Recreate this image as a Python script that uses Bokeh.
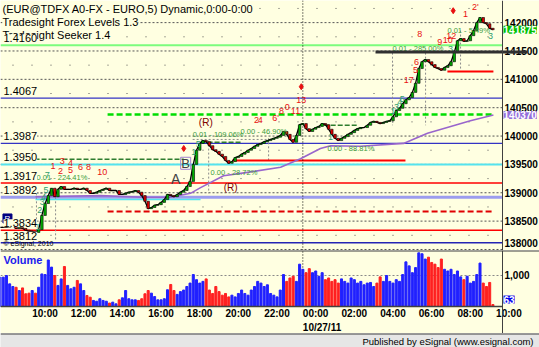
import numpy as np
from bokeh.plotting import figure
from bokeh.layouts import column
from bokeh.models import Range1d, ColumnDataSource, Span
from bokeh.core.properties import value
from bokeh.embed import file_html
from bokeh.resources import INLINE

FONT = "Liberation Sans"
BG = "#FFFFE1"

# ----------------------------- data -----------------------------
bar_start_hour = 8 + 20 / 60      # 08:20 on 10/26/11; hours > 24 belong to 10/27/11
bar_step_hours = 10 / 60

closes = [
    1.3839, 1.3839, 1.3839, 1.3841, 1.3842, 1.3837, 1.3839, 1.3837, 1.3834, 1.3832,
    1.3832, 1.3830, 1.3835, 1.3860, 1.3881, 1.3895, 1.3908, 1.3893, 1.3906, 1.3911,
    1.3906, 1.3906, 1.3906, 1.3908, 1.3906, 1.3906, 1.3908, 1.3904, 1.3899, 1.3899,
    1.3901, 1.3904, 1.3906, 1.3908, 1.3904, 1.3904, 1.3904, 1.3897, 1.3897, 1.3899,
    1.3901, 1.3902, 1.3904, 1.3901, 1.3895, 1.3885, 1.3872, 1.3874, 1.3878, 1.3879,
    1.3883, 1.3888, 1.3897, 1.3895, 1.3893, 1.3897, 1.3901, 1.3904, 1.3911, 1.3920,
    1.3950, 1.3975, 1.3987, 1.3992, 1.3990, 1.3983, 1.3976, 1.3973, 1.3968, 1.3964,
    1.3957, 1.3952, 1.3955, 1.3962, 1.3964, 1.3968, 1.3971, 1.3975, 1.3978, 1.3982,
    1.3985, 1.3987, 1.3990, 1.3992, 1.3994, 1.3996, 1.3998, 1.4001, 1.4008, 1.4003,
    1.3994, 1.3989, 1.4001, 1.4020, 1.4022, 1.4013, 1.4008, 1.4012, 1.4015, 1.4017,
    1.4022, 1.4020, 1.4012, 1.4003, 1.3996, 1.3992, 1.3996, 1.3999, 1.4003, 1.4006,
    1.4010, 1.4013, 1.4015, 1.4015, 1.4019, 1.4024, 1.4026, 1.4024, 1.4022, 1.4024,
    1.4026, 1.4027, 1.4034, 1.4045, 1.4049, 1.4057, 1.4064, 1.4068, 1.4077, 1.4093,
    1.4119, 1.4131, 1.4135, 1.4131, 1.4126, 1.4121, 1.4119, 1.4116, 1.4121, 1.4124,
    1.4131, 1.4147, 1.4168, 1.4172, 1.4167, 1.4168, 1.4177, 1.4186, 1.4200, 1.4209,
    1.4200, 1.4198, 1.4190, 1.41875,
]

volumes = [
    950, 946, 1000, 730, 645, 620, 515, 600, 410, 430,
    515, 430, 620, 1050, 1030, 1500, 1270, 1000, 680, 890,
    1290, 680, 570, 620, 840, 730, 515, 355, 300, 195,
    170, 250, 195, 170, 110, 140, 85, 215, 280, 515,
    250, 215, 215, 195, 250, 410, 515, 430, 320, 215,
    215, 250, 540, 710, 515, 390, 480, 530, 645, 755,
    1030, 865, 755, 810, 890, 530, 420, 645, 480, 365,
    420, 310, 365, 310, 420, 530, 420, 365, 530, 645,
    810, 755, 645, 700, 420, 365, 310, 530, 1030, 810,
    920, 975, 810, 1365, 1200, 1090, 1220, 1090, 1145, 975,
    1090, 865, 920, 810, 865, 755, 890, 810, 755, 920,
    865, 755, 810, 700, 755, 775, 645, 755, 955, 810,
    1000, 810, 755, 865, 810, 1030, 1440, 1310, 1090, 1255,
    1730, 1700, 1530, 1590, 1420, 1365, 1255, 1530, 1200, 1145,
    1200, 1030, 1145, 955, 865, 975, 755, 810, 1030, 1400,
    755, 645, 775, 63,
]

ma_hours = [10.17, 13.53, 15.76, 17.15, 18.19, 18.71, 19.90, 21.14, 22.85, 23.88,
            24.91, 25.43, 26.98, 29.21, 30.45, 32.67, 33.86]
ma_values = [1.3893, 1.3895, 1.3892, 1.3892, 1.3899, 1.3909, 1.3930, 1.3936, 1.3945, 1.3960,
             1.3978, 1.3983, 1.3982, 1.3987, 1.4005, 1.4027, 1.4037]

level_values = [1.4160, 1.4067, 1.3987, 1.3950, 1.3917, 1.3892, 1.3834, 1.3812]
level_texts = ["1.4160", "1.4067", "1.3987", "1.3950", "1.3917", "1.3892", "1.3834", "1.3812"]
level_colors = ["#7CFC7C", "#3434C4", "#3434C4", "#55E3EE", "#FF0000", "#9C9CEE", "#FF0000", "#2424B4"]
level_widths = [2, 1.3, 1.3, 2, 1.5, 3, 1.5, 1.5]

# partial Seeker lines (start hour, end hour, price)
green_dash_x0 = [13.90]; green_dash_x1 = [33.86]; green_dash_y = [1.4038]
dkgreen_dash_x0 = [10.12, 18.71, 25.08]; dkgreen_dash_x1 = [17.84, 20.78, 26.89]
dkgreen_dash_y = [1.3959, 1.3989, 1.4019]
red_dash_x0 = [13.90]; red_dash_x1 = [33.86]; red_dash_y = [1.3867]
red_seg_x0 = [20.36, 31.48]; red_seg_x1 = [29.31, 33.86]; red_seg_y = [1.3957, 1.4114]
black_seg_x0 = [27.76]; black_seg_x1 = [35.62]; black_seg_y = [1.4148]
cyan_seg_x0 = [10.17]; cyan_seg_x1 = [18.71]; cyan_seg_y = [1.3888]
box_x0 = [10.22, 11.21, 10.22, 19.13, 22.23, 18.30, 28.64, 30.35, 32.16]
box_y0 = [1.3899, 1.3899, 1.3899, 1.3992, 1.3996, 1.3994, 1.4147, 1.4147, 1.4186]
box_x1 = [10.22, 11.21, 11.21, 19.13, 22.23, 22.23, 28.64, 30.35, 32.16]
box_y1 = [1.3816, 1.3816, 1.3899, 1.3899, 1.3957, 1.3994, 1.4019, 1.4019, 1.4116]

pct_texts = ["0.01 - 224.41%", "0.01 - 109.06%", "0.00 - 46.90%", "0.00 - 28.72%",
             "0.00 - 88.81%", "0.01 - 285.00%", "0.01 - 5.49%"]
pct_x = [10.22, 18.30, 20.78, 19.23, 25.28, 28.64, 31.48]
pct_y = [1.3927, 1.4003, 1.4008, 1.3936, 1.3978, 1.4154, 1.4186]

red_texts = ["1", "3", "2", "4", "5", "6", "8", "10", "2", "4", "6'", "8", "0", "11", "13",
             "17", "5", "6", "8", "9", "10", "12", "1", "2'"]
red_x = [11.07, 11.55, 11.46, 11.98, 11.98, 12.50, 12.91, 13.62, 21.60, 21.80, 22.59, 22.90,
         23.19, 23.62, 23.92, 29.48, 29.83, 29.88, 30.05, 31.09, 31.50, 31.68, 32.42, 32.93]
red_y = [1.3948, 1.3956, 1.3939, 1.3952, 1.3941, 1.3945, 1.3946, 1.3936, 1.4029, 1.4029,
         1.4032, 1.4045, 1.4051, 1.4045, 1.4063, 1.4099, 1.4116, 1.4131, 1.4180, 1.4166,
         1.4169, 1.4177, 1.4216, 1.4228]
marker_x = [23.92, 31.78, 17.84]
marker_y = [1.4087, 1.4221, 1.3978]

grn_texts = ["1", "2", "3", "4", "5", "7", "1", "5", "1", "1", "3", "4", "5", "3", "3"]
grn_x = [10.29, 10.39, 10.52, 10.60, 10.72, 10.78, 18.36, 18.59, 25.43, 28.65, 28.85, 29.02,
         29.14, 31.64, 33.71]
grn_y = [1.3839, 1.3869, 1.3883, 1.3893, 1.3904, 1.3931, 1.3972, 1.3986, 1.3998, 1.4045,
         1.4052, 1.4060, 1.4066, 1.4154, 1.4177]

price_ticks = [1.380, 1.385, 1.390, 1.395, 1.400, 1.405, 1.410, 1.415, 1.420]
price_tick_labels = ["138000", "138500", "139000", "139500", "140000", "140500",
                     "141000", "141500", "142000"]
price_minor_ticks = [1.3825, 1.3875, 1.3925, 1.3975, 1.4025, 1.4075, 1.4125, 1.4175, 1.4225]
volume_ticks = [1000]
volume_tick_labels = ["1,000"]
time_ticks = [10, 12, 14, 16, 18, 20, 22, 24, 26, 28, 30, 32, 34]
time_tick_labels = ["10:00", "12:00", "14:00", "16:00", "18:00", "20:00", "22:00",
                    "00:00", "02:00", "04:00", "06:00", "08:00", "10:00"]
date_tick = 24
date_text = "10/27/11"
last_price = 1.41875
last_ma = 1.40370
last_volume = 63

# ----------------------------- derived -----------------------------
times = bar_start_hour + bar_step_hours * np.arange(len(closes))
opens = [closes[0]] + closes[:-1]
up = [c >= o for c, o in zip(closes, opens)]

X0, X1, XR = 8.360, 34.330, 36.244    # view start, price-axis line, right edge
Y0, Y1 = 1.37982, 1.42390
VB, V1 = -871, 1806


def txt(fig, xs, ys, texts, color, size, align="left", baseline="middle", style="normal", **kw):
    fig.text(x=xs, y=ys, text=texts, text_color=color, text_font=value(FONT),
             text_font_size=value(size), text_align=align, text_baseline=baseline,
             text_font_style=style, **kw)


# ----------------------------- price pane -----------------------------
p = figure(width=539, height=250, x_range=Range1d(X0, XR), y_range=Range1d(Y0, Y1),
           x_axis_location=None, y_axis_location=None, toolbar_location=None,
           output_backend="svg", background_fill_color=BG, border_fill_color=BG,
           min_border=0, outline_line_color=None)
p.grid.visible = False

n = len(price_ticks)
p.segment(x0=[X0] * n, x1=[X1] * n, y0=price_ticks, y1=price_ticks,
          line_color="#555555", line_dash="2 2", line_width=1)
m = len(price_minor_ticks)
p.segment(x0=[X0] * m, x1=[X1] * m, y0=price_minor_ticks, y1=price_minor_ticks,
          line_color="#555555", line_dash="1 18", line_dash_offset=-12, line_width=1)

# levels
k = len(level_values)
p.segment(x0=[X0] * k, x1=[X1] * k, y0=level_values, y1=level_values,
          line_color=level_colors, line_width=level_widths)

p.segment(x0=box_x0, y0=box_y0, x1=box_x1, y1=box_y1, line_color="#8C8C8C",
          line_dash="2 2", line_width=1)
p.segment(x0=cyan_seg_x0, y0=cyan_seg_y, x1=cyan_seg_x1, y1=cyan_seg_y,
          line_color="#55E3EE", line_width=1.5)
p.segment(x0=green_dash_x0, y0=green_dash_y, x1=green_dash_x1, y1=green_dash_y,
          line_color="#00DD00", line_width=2.5, line_dash="6 3")
p.segment(x0=dkgreen_dash_x0, y0=dkgreen_dash_y, x1=dkgreen_dash_x1, y1=dkgreen_dash_y,
          line_color="#2E7D2E", line_width=1.6, line_dash="5 2")
p.segment(x0=red_dash_x0, y0=red_dash_y, x1=red_dash_x1, y1=red_dash_y,
          line_color="#E00000", line_width=2, line_dash="6 3")
p.segment(x0=red_seg_x0, y0=red_seg_y, x1=red_seg_x1, y1=red_seg_y,
          line_color="#FF0000", line_width=2)
p.segment(x0=[24], x1=[24], y0=[Y0], y1=[Y1], line_color="black", line_dash="1 2")

# moving average
p.line(ma_hours, ma_values, line_color="#9966CC", line_width=1.6)

# candles
src = ColumnDataSource(dict(t=times, c=closes,
                            top=[max(a, b) for a, b in zip(opens, closes)],
                            bot=[min(a, b) for a, b in zip(opens, closes)],
                            col=["#00B000" if u else "#E00000" for u in up]))
p.line("t", "c", source=src, line_color="black", line_width=1.3)
p.vbar(x="t", top="top", bottom="bot", width=0.13, source=src, fill_color="col",
       line_color="black", line_width=0.6)

# annotations
txt(p, pct_x, pct_y, pct_texts, "#3C9C3C", "7.5px")
txt(p, red_x, red_y, red_texts, "#E81010", "9px", align="center")
txt(p, grn_x, grn_y, grn_texts, "#2E9E6E", "9px", align="center")
p.scatter(marker_x, marker_y, marker="diamond", size=6, color="#E81010")

p.rect(x=[17.94], y=[1.3952], width=10, height=12, width_units="screen",
       height_units="screen", fill_color=None, line_color="#A080D0")
txt(p, [17.42], [1.3925], ["A"], "#404040", "14px", align="center")
txt(p, [17.94], [1.3952], ["B"], "#404040", "13px", align="center")
txt(p, [18.98, 20.27], [1.4024, 1.3909], ["(R)", "(R)"], "#800000", "10px", align="center")
p.rect(x=[8.72], y=[1.38547], width=9, height=9, width_units="screen",
       height_units="screen", fill_color="#000080", line_color="#000080")
txt(p, [8.72], [1.38547], ["R"], "white", "8px", align="center")

titles = ["(EUR@TDFX A0-FX - EURO,5) Dynamic,0:00-0:00", "Tradesight Forex Levels 1.3",
          "Tradesight Seeker 1.4"]
txt(p, [X0] * 3, [Y1] * 3, titles, "black", "11px", x_offset=2, y_offset=[8, 21, 34],
    background_fill_color=BG)
txt(p, [X0] * k, level_values, level_texts, "black", "11px",
    x_offset=3, y_offset=-7, background_fill_color=BG)
txt(p, [X0], [Y0], ["\u00a9 eSignal, 2010"], "black", "7px", x_offset=3, y_offset=-7)

# price scale (right)
p.add_layout(Span(location=X1, dimension="height", line_color="#404040", line_width=1))
txt(p, [X1] * n, price_ticks, price_tick_labels, "black", "10px", style="bold",
    x_offset=2, y_offset=[-6, 0, 0, 0, 0, 0, 0, 0, 0])
p.segment(x0=black_seg_x0, y0=black_seg_y, x1=black_seg_x1, y1=black_seg_y,
          line_color="#303030", line_width=3)
txt(p, [X1, X1], [last_price, last_ma], ["%d" % round(last_price * 100000),
                                         "%d" % round(last_ma * 100000)],
    "white", "10px", style="bold", x_offset=1,
    background_fill_color=["#00C000", "#9370DB"])

# ----------------------------- volume pane -----------------------------
v = figure(width=539, height=83, x_range=p.x_range, y_range=Range1d(VB, V1),
           x_axis_location=None, y_axis_location=None, toolbar_location=None,
           output_backend="svg", background_fill_color=BG, border_fill_color=BG,
           min_border=0, outline_line_color=None)
v.grid.visible = False

v.segment(x0=[X0], x1=[X1], y0=volume_ticks, y1=volume_ticks, line_color="#888888",
          line_dash="2 2")
v.segment(x0=[24], x1=[24], y0=[0], y1=[V1], line_color="black", line_dash="1 2")
v.vbar(x=times, top=volumes, width=0.105,
       color=["#2020FF" if u else "#FF2020" for u in up])
v.segment(x0=[X0], x1=[X1], y0=[0], y1=[0], line_color="#404040", line_width=1.5)
v.add_layout(Span(location=V1, dimension="width", line_color="#404040", line_width=2))
v.add_layout(Span(location=X1, dimension="height", line_color="#404040", line_width=1))

txt(v, [X0], [V1], ["Volume"], "#2020EE", "11px", style="bold", x_offset=3, y_offset=9)
txt(v, [X1], volume_ticks, volume_tick_labels, "black", "10px", style="bold", x_offset=2)
txt(v, [X1], [last_volume], [str(last_volume)], "white", "10px", style="bold",
    x_offset=1, y_offset=-5, background_fill_color="#0000EE")
txt(v, time_ticks, [0] * len(time_ticks), time_tick_labels, "black", "10px",
    style="bold", y_offset=7)
txt(v, [date_tick], [0], [date_text], "black", "10px", style="bold", y_offset=21)

# ----------------------------- status bar -----------------------------
s = figure(width=539, height=14, x_range=Range1d(0, 1), y_range=Range1d(0, 1),
           x_axis_location=None, y_axis_location=None, toolbar_location=None,
           output_backend="svg", background_fill_color="#E6E6E6",
           border_fill_color="#E6E6E6", min_border=0, outline_line_color=None)
s.grid.visible = False
s.add_layout(Span(location=1, dimension="width", line_color="#404040", line_width=2))
txt(s, [1], [0.5], ["Published by eSignal (www.esignal.com)"], "black", "9.5px",
    align="right", x_offset=-6, y_offset=1)

layout = column(p, v, s, spacing=0)
open("out.html", "w").write(file_html(layout, INLINE))
